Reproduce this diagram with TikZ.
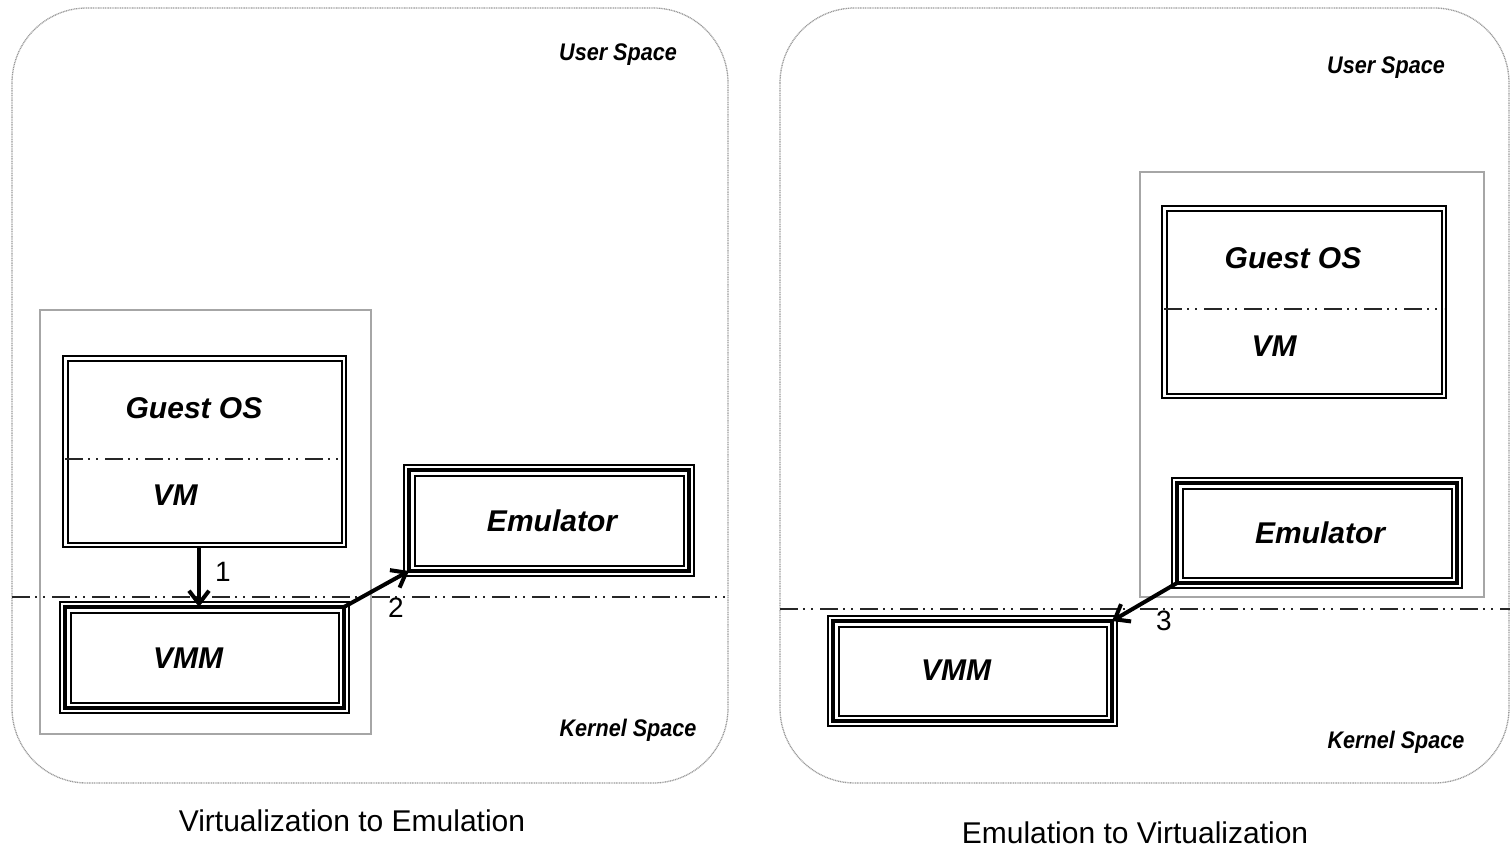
\documentclass[tikz,border=0pt]{standalone}
\usepackage{fontspec}
\setmainfont{Liberation Sans}
\usetikzlibrary{arrows.meta}
\begin{document}
\begin{tikzpicture}[x=1pt,y=-1pt,
  panel/.style={draw=gray!80, line width=1.3pt, dash pattern=on 1pt off 0.7pt, rounded corners=75},
  container/.style={draw=gray!70, line width=1.8pt, inner sep=0pt},
  sepline/.style={draw=black!85, line width=1.7pt, dash pattern=on 18pt off 5pt on 2pt off 6pt on 2pt off 7pt},
  boxline/.style={draw, line width=2pt, inner sep=0pt},
  thinline/.style={line width=2pt},
  midline/.style={line width=4pt},
  lbl/.style={font=\fontsize{30}{30}\selectfont\bfseries\itshape, inner sep=0pt},
  spacelbl/.style={font=\fontsize{24}{24}\selectfont\bfseries\itshape, inner sep=0pt},
  numlbl/.style={font=\fontsize{28}{28}\selectfont, inner sep=0pt},
  caption/.style={font=\fontsize{30}{30}\selectfont, inner sep=0pt},
  arr/.style={line width=4pt, -{Straight Barb[length=13pt,width=20pt]}}
]
\useasboundingbox (0,0) rectangle (1510,848);

% ================= LEFT PANEL =================
\draw[panel] (12,8) rectangle (728,783);
\node[spacelbl] (usL) at (618,55) {\scalebox{0.9}[1]{User Space}};
\node[spacelbl] (ksL) at (628,730) {\scalebox{0.9}[1]{Kernel Space}};
\coordinate (sepLa) at (12,597);
\coordinate (sepLb) at (728,597);
\draw[sepline] (sepLa) -- (sepLb);

\node[container, minimum width=331, minimum height=424] (contL) at (205.5,522) {};

% Guest OS / VM box (double)
\node[boxline, minimum width=283, minimum height=191] (guestL) at (204.5,451.5) {};
\draw[thinline] ([shift={(5.5,5.5)}]guestL.north west) rectangle ([shift={(-5.5,-5.5)}]guestL.south east);
\coordinate (gdLa) at (65,459);
\coordinate (gdLb) at (344,459);
\draw[sepline, line width=1.3pt] (gdLa) -- (gdLb);
\node[lbl] (gosL) at (194,408) {Guest OS};
\node[lbl] (vmL) at (175,495) {VM};

% VMM box (triple)
\node[boxline, minimum width=289, minimum height=111] (vmmL) at (204.5,657.5) {};
\draw[midline] ([shift={(6,6)}]vmmL.north west) rectangle ([shift={(-6,-6)}]vmmL.south east);
\draw[thinline] ([shift={(11.5,11.5)}]vmmL.north west) rectangle ([shift={(-11.5,-11.5)}]vmmL.south east);
\node[lbl] (vmmtL) at (188,658) {VMM};

% Emulator box (triple)
\node[boxline, minimum width=290, minimum height=111] (emuL) at (549,520.5) {};
\draw[midline] ([shift={(6,6)}]emuL.north west) rectangle ([shift={(-6,-6)}]emuL.south east);
\draw[thinline] ([shift={(11.5,11.5)}]emuL.north west) rectangle ([shift={(-11.5,-11.5)}]emuL.south east);
\node[lbl] (emutL) at (552,521) {Emulator};

% arrows
\draw[arr] ([xshift=-5.5]guestL.south) -- ([xshift=-5.5,yshift=-6]vmmL.north);
\node[numlbl] (n1) at (223,572) {1};
\draw[arr] ([shift={(-6,6)}]vmmL.north east) -- ([shift={(6,-6)}]emuL.south west);
\node[numlbl] (n2) at (396,608) {2};

\node[caption] (capL) at (352,821) {Virtualization to Emulation};

% ================= RIGHT PANEL =================
\draw[panel] (780,8) rectangle (1509,783);
\node[spacelbl] (usR) at (1386,68) {\scalebox{0.9}[1]{User Space}};
\node[spacelbl] (ksR) at (1396,742) {\scalebox{0.9}[1]{Kernel Space}};
\coordinate (sepRa) at (780,609);
\coordinate (sepRb) at (1510,609);
\draw[sepline] (sepRa) -- (sepRb);

\node[container, minimum width=344, minimum height=425] (contR) at (1312,384.5) {};

% Guest OS / VM box (double)
\node[boxline, minimum width=284, minimum height=192] (guestR) at (1304,302) {};
\draw[thinline] ([shift={(5.5,5.5)}]guestR.north west) rectangle ([shift={(-5.5,-5.5)}]guestR.south east);
\coordinate (gdRa) at (1164,309);
\coordinate (gdRb) at (1444,309);
\draw[sepline, line width=1.3pt] (gdRa) -- (gdRb);
\node[lbl] (gosR) at (1293,258) {Guest OS};
\node[lbl] (vmR) at (1274,346) {VM};

% Emulator box (triple)
\node[boxline, minimum width=290, minimum height=110] (emuR) at (1317,533) {};
\draw[midline] ([shift={(6,6)}]emuR.north west) rectangle ([shift={(-6,-6)}]emuR.south east);
\draw[thinline] ([shift={(11.5,11.5)}]emuR.north west) rectangle ([shift={(-11.5,-11.5)}]emuR.south east);
\node[lbl] (emutR) at (1320,533) {Emulator};

% VMM box (triple)
\node[boxline, minimum width=289, minimum height=110] (vmmR) at (972.5,671) {};
\draw[midline] ([shift={(6,6)}]vmmR.north west) rectangle ([shift={(-6,-6)}]vmmR.south east);
\draw[thinline] ([shift={(11.5,11.5)}]vmmR.north west) rectangle ([shift={(-11.5,-11.5)}]vmmR.south east);
\node[lbl] (vmmtR) at (956,670) {VMM};

% arrow
\draw[arr] ([shift={(6,-6)}]emuR.south west) -- ([shift={(-6,6)}]vmmR.north east);
\node[numlbl] (n3) at (1164,621) {3};

\node[caption] (capR) at (1135,833) {Emulation to Virtualization};
\end{tikzpicture}
\end{document}
